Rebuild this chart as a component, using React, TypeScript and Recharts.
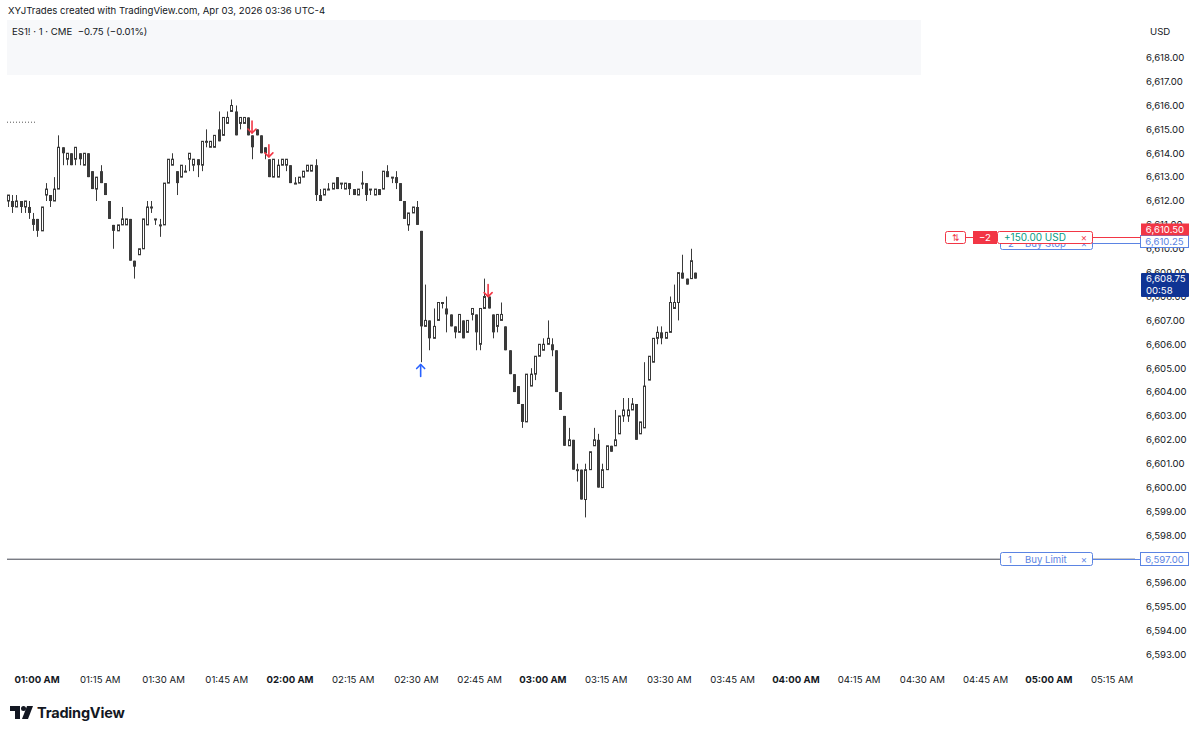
import React from "react";
import {
  ComposedChart, Bar, XAxis, YAxis, ReferenceLine, ReferenceDot,
} from "recharts";

// 1-minute ES1! candles, first bar at 00:53, one row per minute: [open, high, low, close]
const START_MIN = 53;
const ohlc: number[][] = [
  [6612.00, 6612.25, 6611.75, 6612.25], [6612.00, 6612.25, 6611.50, 6611.75], [6611.75, 6612.25, 6611.75, 6612.00],
  [6612.00, 6612.00, 6611.50, 6611.75], [6611.75, 6612.00, 6611.50, 6612.00], [6611.75, 6612.00, 6611.25, 6611.50],
  [6611.25, 6611.50, 6610.75, 6611.00], [6611.25, 6611.25, 6610.50, 6610.75], [6610.75, 6611.75, 6610.75, 6611.75],
  [6612.25, 6612.75, 6612.00, 6612.50], [6612.25, 6612.25, 6611.75, 6612.00], [6612.00, 6613.00, 6612.00, 6612.50],
  [6612.50, 6614.75, 6612.50, 6614.25], [6614.25, 6614.25, 6613.50, 6614.00], [6613.75, 6614.00, 6613.50, 6614.00],
  [6614.00, 6614.00, 6613.50, 6613.50], [6613.75, 6614.25, 6613.50, 6614.25], [6614.00, 6614.00, 6613.50, 6613.75],
  [6613.50, 6614.00, 6613.50, 6614.00], [6614.00, 6614.00, 6613.00, 6613.00], [6613.25, 6613.25, 6612.50, 6612.50],
  [6612.50, 6613.00, 6612.00, 6613.00], [6613.25, 6613.50, 6612.75, 6612.75], [6612.75, 6612.75, 6612.25, 6612.25],
  [6612.00, 6612.00, 6611.25, 6611.25], [6611.00, 6611.00, 6610.00, 6610.75], [6610.75, 6611.00, 6610.75, 6611.00],
  [6611.00, 6611.75, 6611.00, 6611.25], [6611.00, 6611.25, 6611.00, 6611.25], [6611.25, 6611.25, 6609.50, 6609.50],
  [6609.50, 6609.50, 6608.75, 6609.25], [6609.75, 6610.00, 6609.75, 6610.00], [6610.00, 6611.25, 6610.00, 6611.25],
  [6611.00, 6612.00, 6611.00, 6611.75], [6611.75, 6612.00, 6611.50, 6611.75], [6611.25, 6611.25, 6611.00, 6611.25],
  [6611.00, 6611.25, 6610.50, 6611.00], [6611.00, 6612.75, 6611.00, 6612.75], [6612.75, 6613.75, 6612.75, 6613.75],
  [6613.50, 6614.00, 6613.50, 6613.75], [6613.25, 6613.25, 6612.25, 6612.75], [6613.00, 6613.50, 6613.00, 6613.50],
  [6613.25, 6613.50, 6613.25, 6613.25], [6613.75, 6614.00, 6613.25, 6614.00], [6613.50, 6613.75, 6613.25, 6613.75],
  [6613.75, 6613.75, 6613.00, 6613.50], [6613.50, 6614.50, 6613.25, 6614.50], [6614.50, 6615.00, 6614.25, 6614.50],
  [6614.25, 6614.50, 6614.25, 6614.50], [6614.25, 6614.75, 6614.25, 6614.75], [6615.00, 6615.75, 6614.50, 6614.50],
  [6614.75, 6615.50, 6614.75, 6615.50], [6615.25, 6615.75, 6615.25, 6615.50], [6615.75, 6616.25, 6615.75, 6616.00],
  [6615.75, 6616.00, 6614.75, 6614.75], [6615.25, 6615.50, 6615.00, 6615.50], [6615.25, 6615.50, 6615.25, 6615.50],
  [6615.50, 6615.50, 6614.75, 6614.75], [6614.75, 6614.75, 6613.75, 6614.25], [6615.00, 6615.00, 6614.75, 6614.75],
  [6614.75, 6614.75, 6614.00, 6614.00], [6614.25, 6614.25, 6613.75, 6614.00], [6613.75, 6613.75, 6613.00, 6613.00],
  [6613.00, 6613.75, 6613.00, 6613.75], [6613.00, 6613.75, 6613.00, 6613.50], [6613.50, 6613.75, 6613.50, 6613.75],
  [6613.50, 6613.75, 6613.25, 6613.75], [6613.50, 6613.50, 6612.75, 6612.75], [6612.75, 6613.00, 6612.75, 6612.75],
  [6612.75, 6613.00, 6612.75, 6613.00], [6613.00, 6613.25, 6613.00, 6613.25], [6613.25, 6613.50, 6613.25, 6613.50],
  [6613.25, 6613.50, 6613.25, 6613.50], [6613.50, 6613.75, 6612.00, 6612.25], [6612.25, 6612.50, 6612.00, 6612.00],
  [6612.25, 6612.50, 6612.25, 6612.50], [6612.50, 6612.75, 6612.50, 6612.50], [6612.50, 6612.75, 6612.50, 6612.75],
  [6613.00, 6613.00, 6612.50, 6612.50], [6612.75, 6612.75, 6612.50, 6612.75], [6612.50, 6612.75, 6612.50, 6612.75],
  [6612.75, 6612.75, 6612.25, 6612.50], [6612.50, 6612.50, 6612.25, 6612.25], [6612.25, 6612.50, 6612.25, 6612.50],
  [6612.75, 6613.25, 6612.50, 6612.75], [6612.75, 6612.75, 6612.00, 6612.25], [6612.50, 6612.50, 6612.25, 6612.50],
  [6612.25, 6612.50, 6612.25, 6612.50], [6612.50, 6612.50, 6612.25, 6612.25], [6612.50, 6613.25, 6612.50, 6613.25],
  [6613.25, 6613.50, 6613.00, 6613.00], [6613.00, 6613.00, 6612.75, 6613.00], [6613.00, 6613.25, 6612.50, 6612.75],
  [6612.75, 6612.75, 6612.00, 6612.00], [6612.00, 6612.00, 6611.25, 6611.25], [6611.00, 6611.50, 6610.75, 6611.50],
  [6611.50, 6611.75, 6611.50, 6611.75], [6611.75, 6612.00, 6611.00, 6611.00], [6610.75, 6610.75, 6605.25, 6606.75],
  [6606.75, 6608.50, 6606.75, 6607.00], [6607.00, 6607.00, 6605.75, 6606.25], [6606.25, 6607.50, 6606.25, 6606.75],
  [6607.00, 6607.75, 6607.00, 6607.75], [6607.75, 6607.75, 6607.50, 6607.75], [6607.50, 6608.00, 6606.50, 6607.25],
  [6607.25, 6607.25, 6606.75, 6606.75], [6606.75, 6606.75, 6606.25, 6606.50], [6606.50, 6607.25, 6606.50, 6607.25],
  [6607.00, 6607.00, 6606.25, 6606.25], [6606.50, 6607.00, 6606.50, 6607.00], [6607.25, 6607.50, 6607.00, 6607.50],
  [6607.25, 6607.25, 6605.75, 6606.50], [6606.00, 6607.50, 6605.75, 6607.50], [6607.50, 6608.75, 6607.50, 6608.00],
  [6608.00, 6608.00, 6607.50, 6607.50], [6607.25, 6607.25, 6606.25, 6606.50], [6606.75, 6607.25, 6606.50, 6607.25],
  [6607.00, 6607.75, 6607.00, 6607.25], [6606.75, 6606.75, 6605.75, 6605.75], [6605.75, 6605.75, 6604.75, 6604.75],
  [6604.75, 6604.75, 6604.00, 6604.00], [6604.25, 6604.25, 6603.50, 6603.50], [6603.50, 6603.50, 6602.50, 6602.75],
  [6602.75, 6604.75, 6602.75, 6604.75], [6604.25, 6605.00, 6604.25, 6604.75], [6604.75, 6605.50, 6604.50, 6605.50],
  [6605.50, 6606.00, 6605.50, 6606.00], [6605.75, 6606.25, 6605.75, 6606.00], [6606.00, 6607.00, 6606.00, 6606.25],
  [6606.00, 6606.25, 6605.50, 6605.75], [6605.75, 6605.75, 6604.00, 6604.00], [6604.00, 6604.00, 6603.25, 6603.25],
  [6603.00, 6603.00, 6601.75, 6601.75], [6601.75, 6602.50, 6601.75, 6602.00], [6602.00, 6602.00, 6600.75, 6600.75],
  [6600.75, 6601.00, 6600.25, 6600.75], [6600.75, 6600.75, 6599.50, 6599.50], [6599.50, 6601.00, 6598.75, 6600.75],
  [6600.75, 6601.50, 6600.75, 6601.50], [6601.75, 6602.50, 6601.75, 6602.00], [6602.00, 6602.25, 6600.00, 6600.00],
  [6600.00, 6601.00, 6600.00, 6600.75], [6600.75, 6601.75, 6600.75, 6601.75], [6601.75, 6601.75, 6601.50, 6601.50],
  [6601.75, 6603.25, 6601.75, 6602.00], [6602.25, 6603.00, 6602.25, 6603.00], [6603.00, 6603.75, 6602.75, 6603.25],
  [6603.00, 6603.75, 6602.75, 6603.25], [6603.25, 6603.75, 6603.25, 6603.50], [6603.50, 6603.50, 6602.00, 6602.00],
  [6602.25, 6602.75, 6602.25, 6602.75], [6602.50, 6605.25, 6602.50, 6604.25], [6604.50, 6605.50, 6604.50, 6605.50],
  [6605.25, 6606.25, 6605.25, 6606.25], [6606.25, 6606.75, 6606.00, 6606.50], [6606.50, 6606.75, 6606.00, 6606.25],
  [6606.25, 6606.50, 6606.25, 6606.50], [6606.50, 6608.00, 6606.50, 6607.75], [6607.50, 6608.50, 6607.50, 6607.75],
  [6607.75, 6609.00, 6607.00, 6609.00], [6609.00, 6609.75, 6608.75, 6608.75], [6608.75, 6608.75, 6608.50, 6608.50],
  [6608.75, 6610.00, 6608.75, 6609.50], [6609.00, 6609.00, 6608.75, 6608.75],
];

const priceTicks = [
  6593, 6594, 6595, 6596, 6597, 6598, 6599, 6600, 6601, 6602, 6603, 6604, 6605,
  6606, 6607, 6608, 6609, 6610, 6611, 6612, 6613, 6614, 6615, 6616, 6617, 6618,
];
// minutes since midnight
const timeTicks = [60, 75, 90, 105, 120, 135, 150, 165, 180, 195, 210, 225, 240, 255, 270, 285, 300, 315];

// trade markers: minute, price, direction
const markers = [
  { t: 111, p: 6615.1, dir: "down" },
  { t: 115, p: 6614.1, dir: "down" },
  { t: 167, p: 6608.25, dir: "down" },
  { t: 151, p: 6604.9, dir: "up" },
];

const buyLimitPrice = 6597.0;
const sellPrice = 6610.5;
const buyStopPrice = 6610.25;
const lastPrice = 6608.75;
const prevMark = 6615.3;

const FONT = "Inter, 'Noto Sans', sans-serif";
const TEXT = "#131722";
const RED = "#f23645";
const BLUE = "#5b84e3";
const UP_STROKE = "#3a3a3a";
const DOWN_FILL = "#3a3a3a";

const data = ohlc.map(([o, h, l, c], i) => ({ t: START_MIN + i, o, h, l, c, range: [l, h] }));

const pad = (n: number) => String(n).padStart(2, "0");
const fmtTime = (m: number) => `${pad(Math.floor(m / 60))}:${pad(m % 60)} AM`;
const fmtPrice = (v: number) =>
  v.toLocaleString("en-US", { minimumFractionDigits: 2, maximumFractionDigits: 2 });

const Candle = (props: any) => {
  const { x, y, width, height, payload } = props;
  if (!payload) return null;
  const { o, h, l, c } = payload;
  const center = Math.round(x + width / 2);
  const left = center - 1;
  const py = (v: number) => (h === l ? y : y + ((h - v) / (h - l)) * height);
  const top = py(Math.max(o, c));
  const bot = py(Math.min(o, c));
  const up = c >= o;
  return (
    <g>
      <line x1={center + 0.5} x2={center + 0.5} y1={py(h)} y2={py(l)} stroke={UP_STROKE} strokeWidth={1} />
      {up ? (
        <rect x={left + 0.5} y={top} width={2} height={Math.max(bot - top, 1)} fill="#fff" stroke={UP_STROKE} strokeWidth={1} />
      ) : (
        <rect x={left} y={top} width={3} height={Math.max(bot - top, 1)} fill={DOWN_FILL} />
      )}
    </g>
  );
};

const Arrow = (props: any) => {
  const { cx, cy, dir } = props;
  const color = dir === "up" ? "#2962ff" : RED;
  const s = dir === "up" ? -1 : 1;
  return (
    <g stroke={color} strokeWidth={1.6} fill="none" strokeLinecap="round" strokeLinejoin="round">
      <line x1={cx} x2={cx} y1={cy - 6 * s} y2={cy + 6 * s} />
      <polyline points={`${cx - 4},${cy + 2 * s} ${cx},${cy + 6 * s} ${cx + 4},${cy + 2 * s}`} />
    </g>
  );
};

// price scale labels, drawn as reference-line labels so the order tags can sit over them
const PriceTickLabel = (props: any) => {
  const { viewBox, value } = props;
  return (
    <text x={1146} y={viewBox.y} dy="0.35em" fontSize={9.6} fill={TEXT} fontFamily={FONT}>
      {fmtPrice(value)}
    </text>
  );
};

const TimeTick = (props: any) => {
  const { x, payload } = props;
  const bold = payload.value % 60 === 0;
  return (
    <text x={x} y={683} textAnchor="middle" fontSize={9.6} fontWeight={bold ? 700 : 400} fill={TEXT} fontFamily={FONT}>
      {fmtTime(payload.value)}
    </text>
  );
};

const BuyLimitLabel = (props: any) => {
  const y = Math.round(props.viewBox.y) + 0.5;
  return (
    <g fontFamily={FONT} fontSize={9.6}>
      <line x1={1093} x2={1141} y1={y} y2={y} stroke={BLUE} />
      <rect x={1000.5} y={y - 7} width={92} height={13} rx={2} fill="#fff" stroke={BLUE} />
      <text x={1008} y={y} dy="0.35em" fill={BLUE}>1</text>
      <text x={1025} y={y} dy="0.35em" fill={BLUE}>Buy Limit</text>
      <text x={1084} y={y} dy="0.35em" textAnchor="middle" fill={BLUE}>×</text>
      <rect x={1140.5} y={y - 7} width={48} height={13} fill="#fff" stroke={BLUE} />
      <text x={1164.5} y={y} dy="0.35em" textAnchor="middle" fill={BLUE}>{fmtPrice(buyLimitPrice)}</text>
    </g>
  );
};

const BuyStopLabel = (props: any) => {
  const y = Math.round(props.viewBox.y) + 0.5;
  return (
    <g fontFamily={FONT} fontSize={9.6}>
      <line x1={1093} x2={1141} y1={y} y2={y} stroke={BLUE} />
      <rect x={1000.5} y={y - 6} width={92} height={12} rx={2} fill="#fff" stroke={BLUE} />
      <text x={1008} y={y} dy="0.35em" fill={BLUE}>2</text>
      <text x={1025} y={y} dy="0.35em" fill={BLUE}>Buy Stop</text>
      <text x={1084} y={y} dy="0.35em" textAnchor="middle" fill={BLUE}>×</text>
      <rect x={1140.5} y={y - 8} width={48} height={12} fill="#fff" stroke={BLUE} />
      <text x={1164.5} y={y - 2} dy="0.35em" textAnchor="middle" fill={BLUE}>{fmtPrice(buyStopPrice)}</text>
    </g>
  );
};

const PositionLabel = (props: any) => {
  const y = Math.round(props.viewBox.y) + 0.5;
  return (
    <g fontFamily={FONT} fontSize={9.6}>
      <line x1={966} x2={973} y1={y} y2={y} stroke={RED} />
      <line x1={1093} x2={1141} y1={y} y2={y} stroke={RED} />
      <rect x={945.5} y={y - 6} width={20} height={12} rx={2} fill="#fff" stroke={RED} />
      <text x={955.5} y={y} dy="0.35em" textAnchor="middle" fill={RED} fontSize={9}>⇅</text>
      <rect x={973} y={y - 6.5} width={24} height={13} fill={RED} />
      <text x={985} y={y} dy="0.35em" textAnchor="middle" fill="#fff">−2</text>
      <rect x={997.5} y={y - 6} width={95} height={12} rx={2} fill="#fff" stroke={RED} />
      <text x={1004} y={y} dy="0.35em" fill="#089981" fontSize={10}>+150.00 USD</text>
      <text x={1084} y={y} dy="0.35em" textAnchor="middle" fill={RED}>×</text>
      <rect x={1141} y={y - 14} width={48} height={12} fill={RED} />
      <text x={1165} y={y - 8} dy="0.35em" textAnchor="middle" fill="#fff">{fmtPrice(sellPrice)}</text>
    </g>
  );
};

const LastPriceLabel = (props: any) => {
  const y = Math.round(props.viewBox.y);
  return (
    <g fontFamily={FONT} fontSize={9.6}>
      <rect x={1141} y={y - 6} width={48} height={24} rx={1} fill="#0f3494" />
      <text x={1146} y={y} dy="0.35em" fill="#fff">{fmtPrice(lastPrice)}</text>
      <text x={1146} y={y + 12} dy="0.35em" fill="#fff">00:58</text>
    </g>
  );
};

export default function App() {
  return (
    <div style={{ position: "absolute", left: 0, top: 0, width: 1200, height: 734, background: "#fff", overflow: "hidden", fontFamily: FONT }}>
      <div style={{ position: "absolute", left: 8, top: 5, fontSize: 9.6, color: TEXT }}>
        XYJTrades created with TradingView.com, Apr 03, 2026 03:36 UTC-4
      </div>
      <div style={{ position: "absolute", left: 7, top: 20, width: 914, height: 55, background: "#f7f8fa" }} />
      <div style={{ position: "absolute", left: 12, top: 26, fontSize: 9.6, color: TEXT, whiteSpace: "pre" }}>
        {"ES1! · 1 · CME  −0.75 (−0.01%)"}
      </div>
      <div style={{ position: "absolute", left: 1150, top: 26, fontSize: 9.6, color: TEXT }}>USD</div>

      <div style={{ position: "absolute", left: 0, top: 0 }}>
        <ComposedChart width={1200} height={734} data={data} margin={{ top: 20, right: 0, bottom: 0, left: 7 }}>
          <XAxis
            dataKey="t" type="number" domain={[52.88, 320.44]} allowDataOverflow
            ticks={timeTicks} interval={0} height={69} axisLine={false} tickLine={false} tick={<TimeTick />}
          />
          <YAxis
            orientation="right" type="number" domain={[6592.57, 6619.58]} allowDataOverflow
            ticks={priceTicks} width={65} axisLine={false} tickLine={false} tick={false}
          />
          {priceTicks.map((v) => (
            <ReferenceLine key={v} y={v} stroke="none" label={<PriceTickLabel value={v} />} />
          ))}
          <Bar dataKey="range" barSize={3} shape={<Candle />} isAnimationActive={false} />
          <ReferenceLine
            segment={[{ x: 52.88, y: prevMark }, { x: 60, y: prevMark }]}
            stroke="#555" strokeDasharray="1 2"
          />
          <ReferenceLine y={buyLimitPrice} stroke="#434651" strokeWidth={1} label={<BuyLimitLabel />} />
          <ReferenceLine y={buyStopPrice} stroke="none" label={<BuyStopLabel />} />
          <ReferenceLine y={sellPrice} stroke="none" label={<PositionLabel />} />
          <ReferenceLine y={lastPrice} stroke="none" label={<LastPriceLabel />} />
          {markers.map((m, i) => (
            <ReferenceDot key={i} x={m.t} y={m.p} r={0} shape={(p: any) => <Arrow {...p} dir={m.dir} />} />
          ))}
        </ComposedChart>
      </div>

      <div style={{ position: "absolute", left: 0, top: 700 }}>
        <svg width={140} height={30}>
          <path d="M10 6 H20 V19 H15 V11 H10 Z" fill="#131722" />
          <circle cx={23.5} cy={8.5} r={2.5} fill="#131722" />
          <path d="M27 6 H33 L28 19 H22 Z" fill="#131722" />
          <text x={37} y={18} fontSize={14.5} fontWeight={700} fill="#131722" fontFamily={FONT} letterSpacing={-0.2}>
            TradingView
          </text>
        </svg>
      </div>
    </div>
  );
}
